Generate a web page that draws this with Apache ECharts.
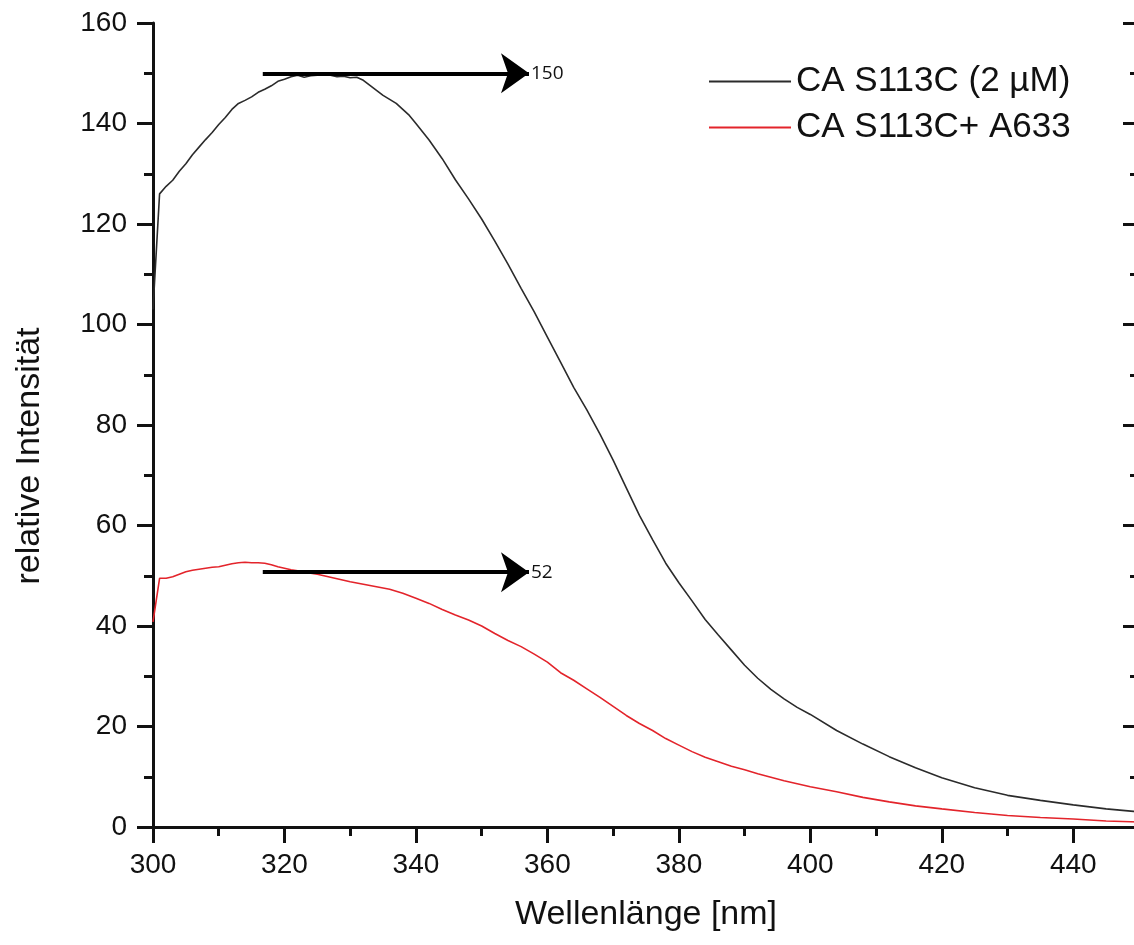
<!DOCTYPE html>
<html>
<head>
<meta charset="utf-8">
<script src="https://cdn.jsdelivr.net/npm/echarts@6/dist/echarts.min.js"></script>
<style>
  html, body { margin: 0; padding: 0; background: #fff; overflow: hidden; }
  #chart { width: 1139px; height: 945px; }
</style>
</head>
<body>
<div id="chart"></div>
<script>
    // Wellenlänge (nm) und Intensität
    var blackNm = [300, 301, 302, 303, 304, 305, 306, 307, 308, 309, 310, 311, 312, 313, 314, 315, 316, 317, 318, 319,
        320, 321, 322, 323, 324, 325, 326, 327, 328, 329, 330, 331, 332, 333, 334, 335, 336, 337, 338, 339, 340,
        342, 344, 346, 348, 350, 352, 354, 356, 358, 360, 362, 364, 366, 368, 370, 372, 374, 376, 378, 380,
        382, 384, 386, 388, 390, 392, 394, 396, 398, 400, 404, 408, 412, 416, 420, 425, 430, 435, 440, 445, 450];
    var blackInt = [103, 126, 127.5, 128.7, 130.5, 132, 133.8, 135.3, 136.8, 138.2, 139.8, 141.2, 142.8, 144, 144.6, 145.3, 146.2, 146.8, 147.5, 148.4,
        148.8, 149.3, 149.6, 149.2, 149.5, 149.6, 149.7, 149.6, 149.3, 149.4, 149.1, 149.2, 148.6, 147.6, 146.6, 145.6, 144.8, 144, 142.8, 141.6, 140,
        136.7, 133, 128.8, 125, 121, 116.6, 112, 107.2, 102.5, 97.5, 92.5, 87.5, 83, 78.2, 73, 67.5, 62, 57.2, 52.5, 48.6,
        45, 41.3, 38.2, 35.2, 32.2, 29.6, 27.4, 25.5, 23.8, 22.4, 19.2, 16.5, 14, 11.8, 9.8, 7.8, 6.3, 5.3, 4.4, 3.6, 3.0];

    var redNm = [300, 301, 302, 303, 304, 305, 306, 307, 308, 309, 310, 311, 312, 313, 314, 315, 316, 317, 318, 319,
        320, 321, 322, 323, 324, 325, 326, 327, 328, 329, 330, 332, 334, 336, 338, 340, 342, 344, 346, 348, 350,
        352, 354, 356, 358, 360, 362, 364, 366, 368, 370, 372, 374, 376, 378, 380, 382, 384, 386, 388, 390,
        392, 394, 396, 398, 400, 404, 408, 412, 416, 420, 425, 430, 435, 440, 445, 450];
    var redInt = [40.8, 49.5, 49.5, 49.8, 50.3, 50.8, 51.1, 51.3, 51.5, 51.7, 51.8, 52.1, 52.4, 52.6, 52.7, 52.6, 52.6, 52.5, 52.2, 51.8,
        51.5, 51.2, 51, 50.8, 50.5, 50.3, 50, 49.7, 49.4, 49.1, 48.8, 48.3, 47.8, 47.3, 46.5, 45.5, 44.5, 43.3, 42.2, 41.2, 40,
        38.5, 37.1, 35.9, 34.4, 32.8, 30.7, 29.2, 27.5, 25.8, 24, 22.2, 20.6, 19.2, 17.6, 16.3, 15, 13.9, 13, 12.1, 11.4,
        10.6, 9.9, 9.2, 8.6, 8.0, 7.0, 5.9, 5.0, 4.2, 3.6, 2.9, 2.3, 1.9, 1.6, 1.2, 1.0];

    var seriesNames = ['CA S113C (2 µM)', 'CA S113C+ A633'];
    // Pfeile: [Start-nm, End-nm, Höhe, Beschriftung]
    var arrowBlack = [316.7, 357.2, 150, '150'];
    var arrowRed = [316.7, 357.2, 50.7, '52'];

    var xTicks = { min: 300, max: 450, interval: 20 };
    var yTicks = { min: 0, max: 160, interval: 20 };

    function pairs(xs, ys) {
        return xs.map(function (x, i) { return [x, ys[i]]; });
    }

    var font = 'Liberation Sans, Arial, Helvetica, sans-serif';
    var axisColor = '#111';

    function arrowLine(a) {
        return {
            silent: true,
            symbol: ['none', 'arrow'],
            symbolSize: [30, 28],
            lineStyle: { color: '#000', width: 4, type: 'solid' },
            label: {
                show: true,
                position: 'end',
                distance: 2,
                formatter: a[3],
                fontFamily: 'Open Sans, sans-serif',
                fontSize: 19,
                color: '#111'
            },
            emphasis: { disabled: true },
            animation: false,
            data: [[{ coord: [a[0], a[2]] }, { coord: [a[1], a[2]] }]]
        };
    }

    var myChart = echarts.init(document.getElementById('chart'));
    var option = {
        backgroundColor: '#ffffff',
        animation: false,
        grid: { left: 153, top: 23, right: 0, bottom: 118 },
        legend: {
            orient: 'vertical',
            left: 703,
            top: 59,
            itemWidth: 82,
            itemHeight: 14,
            itemGap: 11,
            itemStyle: { opacity: 0 },
            textStyle: { fontFamily: font, fontSize: 35, color: '#111', padding: [0, 0, 0, 0] },
            data: seriesNames
        },
        xAxis: [{
            type: 'value',
            position: 'bottom',
            min: xTicks.min, max: xTicks.max, interval: xTicks.interval,
            name: 'Wellenlänge [nm]',
            nameLocation: 'middle',
            nameGap: 71,
            nameTextStyle: { fontFamily: font, fontSize: 34, color: axisColor },
            axisLine: { lineStyle: { color: axisColor, width: 3 } },
            axisTick: { inside: false, length: 16, lineStyle: { color: axisColor, width: 3 } },
            minorTick: { show: true, splitNumber: 2, length: 9, lineStyle: { color: axisColor, width: 3 } },
            axisLabel: { fontFamily: font, fontSize: 28, color: axisColor, margin: 24,
                showMaxLabel: false },
            splitLine: { show: false }
        }, {
            type: 'value',
            position: 'top',
            min: xTicks.min, max: xTicks.max, interval: xTicks.interval,
            axisLine: { lineStyle: { color: axisColor, width: 3 } },
            axisTick: { inside: true, length: 16, lineStyle: { color: axisColor, width: 3 } },
            minorTick: { show: true, splitNumber: 2, length: 9, lineStyle: { color: axisColor, width: 3 } },
            axisLabel: { show: false },
            splitLine: { show: false }
        }],
        yAxis: [{
            type: 'value',
            position: 'left',
            min: yTicks.min, max: yTicks.max, interval: yTicks.interval,
            axisLine: { show: true, lineStyle: { color: axisColor, width: 3 } },
            axisTick: { show: true, inside: false, length: 16, lineStyle: { color: axisColor, width: 3 } },
            minorTick: { show: true, splitNumber: 2, length: 9, lineStyle: { color: axisColor, width: 3 } },
            axisLabel: { fontFamily: font, fontSize: 28, color: axisColor, margin: 26 },
            splitLine: { show: false }
        }, {
            type: 'value',
            position: 'right',
            min: yTicks.min, max: yTicks.max, interval: yTicks.interval,
            axisLine: { show: true, lineStyle: { color: axisColor, width: 3 } },
            axisTick: { show: true, inside: true, length: 16, lineStyle: { color: axisColor, width: 3 } },
            minorTick: { show: true, splitNumber: 2, length: 9, lineStyle: { color: axisColor, width: 3 } },
            axisLabel: { show: false },
            splitLine: { show: false }
        }],
        graphic: [{
            type: 'text',
            x: 30,
            y: 456,
            rotation: Math.PI / 2,
            style: {
                text: 'relative Intensität',
                fontFamily: font,
                fontSize: 34,
                fill: axisColor,
                align: 'center',
                verticalAlign: 'middle'
            }
        }],
        series: [{
            name: seriesNames[0],
            type: 'line',
            data: pairs(blackNm, blackInt),
            symbol: 'none',
            color: '#2b2b2b',
            lineStyle: { color: '#2b2b2b', width: 1.6 },
            z: 3,
            markLine: arrowLine(arrowBlack)
        }, {
            name: seriesNames[1],
            type: 'line',
            data: pairs(redNm, redInt),
            symbol: 'none',
            color: '#e3242b',
            lineStyle: { color: '#e3242b', width: 1.6 },
            z: 2,
            markLine: arrowLine(arrowRed)
        }]
    };
    myChart.setOption(option);
    window.addEventListener('resize', function () {
        myChart.resize();
    });
</script>
</body>
</html>
